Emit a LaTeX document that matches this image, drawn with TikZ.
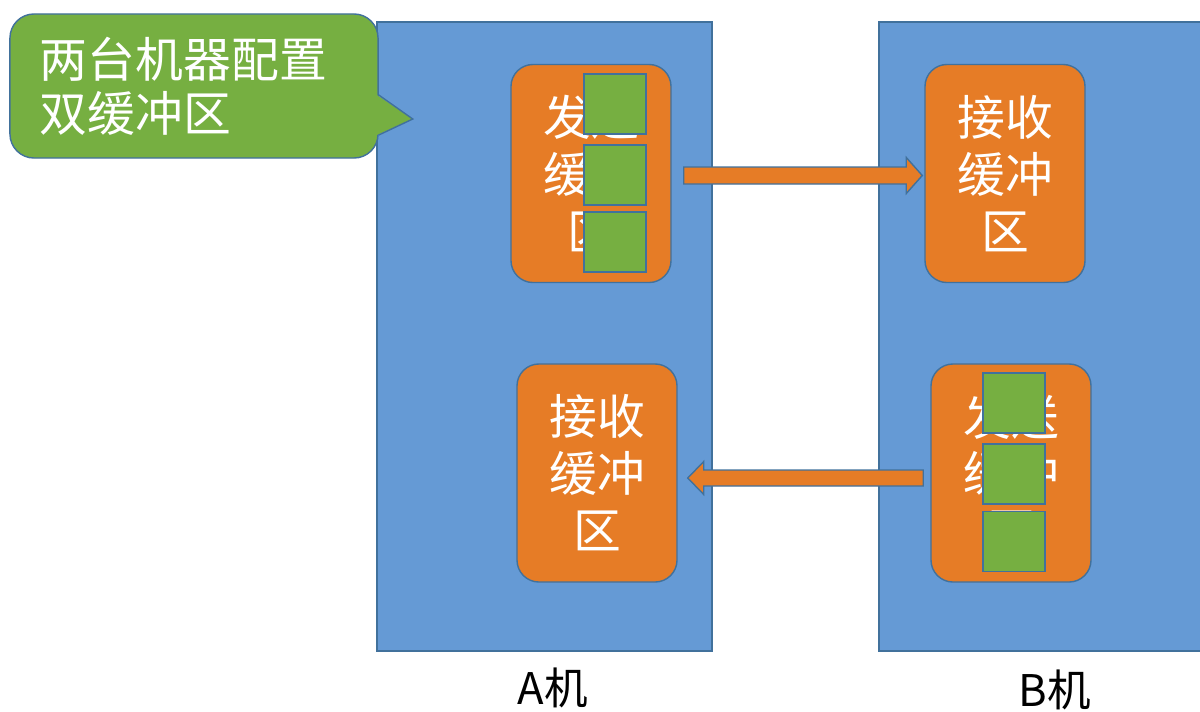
\documentclass[tikz,border=0pt]{standalone}
\usepackage{fontspec}
\newfontfamily\cjk{Noto Sans CJK SC}
\usetikzlibrary{calc}
\definecolor{panelblue}{RGB}{101,154,213}
\definecolor{edgeblue}{RGB}{65,113,156}
\definecolor{bufferorange}{RGB}{230,124,38}
\definecolor{slotgreen}{RGB}{118,175,65}

\begin{document}
\begin{tikzpicture}[x=0.025cm, y=-0.025cm,
  machine/.style={draw=edgeblue, fill=panelblue, line width=1pt,
    minimum height=15.725cm, inner sep=0pt},
  buffer/.style={draw=edgeblue, fill=bufferorange, line width=1pt,
    rounded corners=0.55cm, minimum width=4cm, minimum height=5.45cm,
    inner sep=0pt, text=white, align=center,
    font=\cjk\fontsize{34}{40.5}\selectfont},
  slot/.style={draw=edgeblue, fill=slotgreen, line width=1pt,
    minimum width=1.55cm, minimum height=1.5cm, inner sep=0pt},
  blockarrow/.style={draw=edgeblue, fill=bufferorange, line width=1pt,
    line join=miter},
  note/.style={draw=edgeblue, fill=slotgreen, line width=1pt,
    rounded corners=0.6cm, minimum height=3.6cm, text width=7.7cm,
    inner xsep=0.75cm, inner ysep=0pt, align=left, text=white,
    font=\cjk\fontsize{34}{38.4}\selectfont},
  tag/.style={font=\cjk\fontsize{31}{36}\selectfont, text=black, inner sep=0pt}
]
\useasboundingbox (0,0) rectangle (1200,711);

% the two machines
\node[machine, minimum width=8.375cm] (machA) at (544.5,336.5) {};
\node[machine, minimum width=8.4cm]   (machB) at (1047,336.5) {};

% buffers
\node[buffer] (sendA) at (591,173.5) {发送\\缓冲\\区};
\node[buffer] (recvB) at (1005,173.5) {接收\\缓冲\\区};
\node[buffer] (recvA) at (597,473) {接收\\缓冲\\区};
\node[buffer] (sendB) at (1011,473) {发送\\缓冲\\区};

% data slots queued in the send buffers
\node[slot] (sA1) at (615,104) {};
\node[slot] (sA2) at (615,175) {};
\node[slot] (sA3) at (615,242) {};
\node[slot] (sB1) at (1014,403) {};
\node[slot] (sB2) at (1014,474) {};
\node[slot] (sB3) at (1014,541.5) {};

% transfer A -> B
\coordinate (a1s) at ($(sendA.east)+(12,2)$);
\coordinate (a1e) at ($(recvB.west)+(-2,2)$);
\filldraw[blockarrow] ($(a1s)+(0,-8.5)$) -- ($(a1e)+(-16,-8.5)$)
  -- ($(a1e)+(-16,-18)$) -- (a1e) -- ($(a1e)+(-16,18)$)
  -- ($(a1e)+(-16,8.5)$) -- ($(a1s)+(0,8.5)$) -- cycle;

% transfer B -> A
\coordinate (a2s) at ($(sendB.west)+(-7,5)$);
\coordinate (a2e) at ($(recvA.east)+(10,5)$);
\filldraw[blockarrow] ($(a2s)+(0,-8)$) -- ($(a2e)+(16,-8)$)
  -- ($(a2e)+(16,-16.5)$) -- (a2e) -- ($(a2e)+(16,16.5)$)
  -- ($(a2e)+(16,8)$) -- ($(a2s)+(0,8)$) -- cycle;

% speech bubble
\node[note] (memo) at (194,86) {两台机器配置\\双缓冲区};
\fill[slotgreen] ($(memo.east)+(-2,9)$) -- ($(memo.east)+(34,33)$)
  -- ($(memo.east)+(-2,49)$) -- cycle;
\draw[edgeblue, line width=1pt, line join=miter] ($(memo.east)+(0,9)$)
  -- ($(memo.east)+(34,33)$) -- ($(memo.east)+(0,49)$);

% machine names
\node[tag] (tagA) at (553,688) {A机};
\node[tag] (tagB) at (1055,690) {B机};
\end{tikzpicture}
\end{document}
